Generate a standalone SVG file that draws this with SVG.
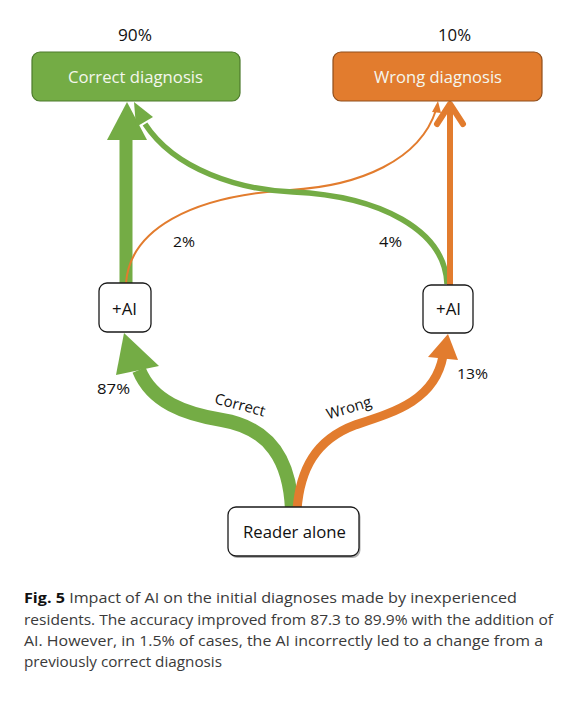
<svg xmlns="http://www.w3.org/2000/svg" width="570" height="707" viewBox="0 0 570 707">
<style>
.lbl{font-family:"Open Sans","Liberation Sans",sans-serif;fill:#111;}
.boxtxt{font-family:"Open Sans","Liberation Sans",sans-serif;fill:#F4F7EE;font-size:16.5px;}
.wbox{fill:#fff;stroke:#1a1a1a;stroke-width:1.3;}
.cap{font-family:"Open Sans","Liberation Sans",sans-serif;font-size:15px;fill:#3a3a3a;}
.g{fill:none;stroke:#74AC45;}
.o{fill:none;stroke:#E27C2E;}
</style>
<rect width="570" height="707" fill="#fff"/>
<g id="connectors">
  <!-- Reader alone -> left +AI (green, correct) -->
  <path class="g" stroke-width="14" d="M292,510 C290,460 270,428 222,420 C185,414 152,402 139,370"/>
  <polygon fill="#74AC45" points="124,333 116,375 159,366"/>
  <!-- Reader alone -> right +AI (orange, wrong) -->
  <path class="o" stroke-width="9" d="M297,510 C300,470 315,440 355,425 C395,412 435,400 443,356"/>
  <polygon fill="#E27C2E" points="448,334 428,357 458,360"/>
  <!-- left +AI -> Correct (green vertical) -->
  <rect x="119.5" y="132" width="13" height="151" fill="#74AC45"/>
  <polygon fill="#74AC45" points="127,102 107,140 147,140"/>
  <!-- left +AI -> Wrong (orange thin, 2%) -->
  <path class="o" stroke-width="2" d="M126,283 C130,230 190,196 290,190 C360,186 420,160 436,110"/>
  <polygon fill="#E27C2E" points="438,101 432,112 441,113"/>
  <!-- right +AI -> Correct (green curve, 4%) -->
  <path class="g" stroke-width="5.5" d="M447,284 C445,230 380,196 293,192 C240,190 175,170 145,124"/>
  <polygon fill="#74AC45" points="134,102 153,117 136,127"/>
  <!-- right +AI -> Wrong (orange vertical) -->
  <line x1="450" y1="285" x2="450" y2="106" stroke="#E27C2E" stroke-width="6"/>
  <polyline points="437,124 450,104 463,124" fill="none" stroke="#E27C2E" stroke-width="6" stroke-linejoin="round" stroke-linecap="round"/>
</g>
<g id="correct-diagnosis">
  <rect x="32" y="52" width="208" height="49" rx="8" fill="#74AC45" stroke="#4C7A2C" stroke-width="1.2"/>
  <text class="boxtxt" x="135.5" y="83" text-anchor="middle" textLength="135" lengthAdjust="spacingAndGlyphs">Correct diagnosis</text>
  <text class="lbl" x="135" y="41" font-size="16" text-anchor="middle" textLength="34" lengthAdjust="spacingAndGlyphs">90%</text>
</g>
<g id="wrong-diagnosis">
  <rect x="333" y="52" width="209" height="49" rx="8" fill="#E27C2E" stroke="#8F4E1C" stroke-width="1.2"/>
  <text class="boxtxt" x="438" y="83" text-anchor="middle" textLength="128" lengthAdjust="spacingAndGlyphs">Wrong diagnosis</text>
  <text class="lbl" x="454.5" y="41" font-size="16" text-anchor="middle" textLength="33" lengthAdjust="spacingAndGlyphs">10%</text>
</g>
<g id="ai-left">
  <rect class="wbox" x="99" y="283" width="52" height="49" rx="8"/>
  <text class="lbl" x="124.5" y="315" font-size="16" text-anchor="middle" textLength="25" lengthAdjust="spacingAndGlyphs">+AI</text>
</g>
<g id="ai-right">
  <rect class="wbox" x="423" y="285" width="50" height="48" rx="8"/>
  <text class="lbl" x="448.5" y="315" font-size="16" text-anchor="middle" textLength="25" lengthAdjust="spacingAndGlyphs">+AI</text>
</g>
<g id="reader-alone">
  <rect x="229.5" y="509" width="131" height="49" rx="8" fill="#1a1a1a" opacity="0.35"/>
  <rect class="wbox" x="228" y="507" width="131" height="49" rx="8"/>
  <text class="lbl" x="294.5" y="538" font-size="17" text-anchor="middle" textLength="103" lengthAdjust="spacingAndGlyphs">Reader alone</text>
</g>
<g id="labels">
  <text class="lbl" x="184" y="247" font-size="15" text-anchor="middle" textLength="22" lengthAdjust="spacingAndGlyphs">2%</text>
  <text class="lbl" x="390.5" y="247" font-size="15" text-anchor="middle" textLength="23" lengthAdjust="spacingAndGlyphs">4%</text>
  <text class="lbl" x="113.5" y="394" font-size="15" text-anchor="middle" textLength="33" lengthAdjust="spacingAndGlyphs">87%</text>
  <text class="lbl" x="472.5" y="379" font-size="15" text-anchor="middle" textLength="31" lengthAdjust="spacingAndGlyphs">13%</text>
  <text class="lbl" x="240" y="410" font-size="15" text-anchor="middle" transform="rotate(15 240 405)">Correct</text>
  <text class="lbl" x="349" y="413" font-size="15" text-anchor="middle" transform="rotate(-17 349 408)">Wrong</text>
</g>
<g id="caption">
  <text class="cap" x="24" y="603" textLength="493" lengthAdjust="spacingAndGlyphs"><tspan font-weight="bold" fill="#111">Fig. 5</tspan> Impact of AI on the initial diagnoses made by inexperienced</text>
  <text class="cap" x="24" y="624.5" textLength="529" lengthAdjust="spacingAndGlyphs">residents. The accuracy improved from 87.3 to 89.9% with the addition of</text>
  <text class="cap" x="24" y="646" textLength="519" lengthAdjust="spacingAndGlyphs">AI. However, in 1.5% of cases, the AI incorrectly led to a change from a</text>
  <text class="cap" x="24" y="667" textLength="198" lengthAdjust="spacingAndGlyphs">previously correct diagnosis</text>
</g>
</svg>
